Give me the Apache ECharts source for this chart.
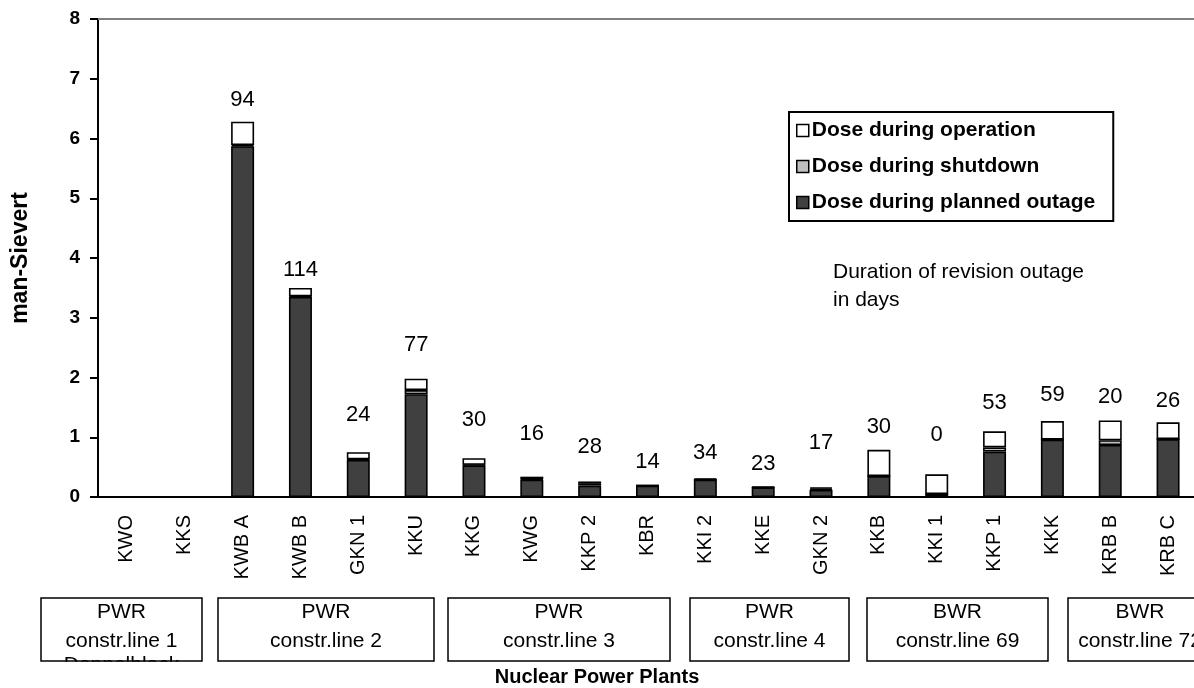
<!DOCTYPE html>
<html>
<head>
<meta charset="utf-8">
<script src="https://cdn.jsdelivr.net/npm/echarts@6/dist/echarts.min.js"></script>
<style>
  html, body { margin: 0; padding: 0; background: #ffffff; }
  #chart { width: 1194px; height: 688px; }
</style>
</head>
<body>
<div id="chart"></div>
<script>
// Plants on the x axis
const plants = ['KWO', 'KKS', 'KWB A', 'KWB B', 'GKN 1', 'KKU', 'KKG', 'KWG', 'KKP 2', 'KBR',
  'KKI 2', 'KKE', 'GKN 2', 'KKB', 'KKI 1', 'KKP 1', 'KKK', 'KRB B', 'KRB C'];

// Collective dose per plant, man-Sievert
const plannedOutageDose = [null, null, 5.87, 3.35, 0.62, 1.72, 0.53, 0.29, 0.19, 0.19,
  0.29, 0.16, 0.12, 0.35, 0.05, 0.76, 0.96, 0.87, 0.97];
const shutdownDose = [null, null, 0.02, 0.01, 0.01, 0.07, 0.01, 0.01, 0.03, 0,
  0, 0, 0.02, 0, 0, 0.07, 0, 0.08, 0];
const operationDose = [null, null, 0.39, 0.14, 0.12, 0.19, 0.11, 0.04, 0.04, 0,
  0.02, 0.01, 0.02, 0.44, 0.33, 0.27, 0.31, 0.33, 0.28];

// Duration of the revision outage in days, and the dose level each note sits at
const outageDays = [null, null, 94, 114, 24, 77, 30, 16, 28, 14, 34, 23, 17, 30, 0, 53, 59, 20, 26];
const outageDaysLevel = [null, null, 6.65, 3.80, 1.37, 2.55, 1.29, 1.05, 0.83, 0.58,
  0.73, 0.56, 0.90, 1.17, 1.04, 1.58, 1.70, 1.68, 1.60];

// Reactor construction lines shown under the axis
const groupType = ['PWR', 'PWR', 'PWR', 'PWR', 'BWR', 'BWR'];
const groupLine = ['constr.line 1', 'constr.line 2', 'constr.line 3', 'constr.line 4', 'constr.line 69', 'constr.line 72'];

const seriesNames = ['Dose during planned outage', 'Dose during shutdown', 'Dose during operation'];

const FONT = 'Arial, "Liberation Sans", Helvetica, sans-serif';
const chart = echarts.init(document.getElementById('chart'), null, { renderer: 'canvas' });

const barStyle = (color) => ({ color: color, borderColor: '#000000', borderWidth: 1.6 });

// Boxes for the construction lines (left, width); the last one runs past the right edge
const boxGeom = [[41, 161], [218, 216], [448, 222], [690, 159], [867, 181], [1068, 144]];
const BOX_TOP = 598, BOX_H = 63;
const graphics = [];
boxGeom.forEach((g, i) => {
  const cx = g[0] + g[1] / 2;
  graphics.push({
    type: 'rect', z: 30,
    shape: { x: g[0], y: BOX_TOP, width: g[1], height: BOX_H },
    style: { fill: 'transparent', stroke: '#000000', lineWidth: 1.5 }
  });
  graphics.push({
    type: 'text', z: 10, x: cx, y: BOX_TOP + 14,
    style: { text: groupType[i], font: '21px ' + FONT, fill: '#000000', align: 'center', verticalAlign: 'middle' }
  });
  graphics.push({
    type: 'text', z: 10, x: cx, y: BOX_TOP + 43,
    style: { text: groupLine[i], font: '21px ' + FONT, fill: '#000000', align: 'center', verticalAlign: 'middle' }
  });
});
// third line of the first box runs past its lower edge and is cut off there
graphics.push({
  type: 'text', z: 10, x: boxGeom[0][0] + boxGeom[0][1] / 2, y: BOX_TOP + 67,
  style: { text: 'Doppelblock', font: '21px ' + FONT, fill: '#000000', align: 'center', verticalAlign: 'middle' }
});
graphics.push({
  type: 'rect', z: 20,
  shape: { x: 30, y: BOX_TOP + BOX_H + 0.8, width: 185, height: 40 },
  style: { fill: '#ffffff' }
});
graphics.push({
  type: 'text', z: 10, x: 597, y: 677,
  style: { text: 'Nuclear Power Plants', font: 'bold 20px ' + FONT, fill: '#000000', align: 'center', verticalAlign: 'middle' }
});
graphics.push({
  type: 'text', z: 10, x: 833, y: 258,
  style: { text: 'Duration of revision outage\nin days', font: '21px ' + FONT, lineHeight: 28, fill: '#000000', align: 'left', verticalAlign: 'top' }
});

chart.setOption({
  animation: false,
  backgroundColor: '#ffffff',
  textStyle: { fontFamily: FONT },
  grid: { left: 98, right: -3, top: 19, bottom: 191, containLabel: false, outerBoundsMode: 'none' },
  legend: {
    data: ['Dose during operation', 'Dose during shutdown', 'Dose during planned outage'],
    orient: 'vertical',
    left: 789, top: 112,
    padding: [8, 18, 8, 7],
    itemGap: 15,
    itemWidth: 12, itemHeight: 12,
    icon: 'rect',
    backgroundColor: '#ffffff',
    borderColor: '#000000', borderWidth: 2, borderRadius: 0,
    itemStyle: { borderColor: '#000000', borderWidth: 1.5 },
    textStyle: { fontFamily: FONT, fontSize: 21, fontWeight: 'bold', color: '#000000', padding: [0, 0, 0, -2] },
    selectedMode: false
  },
  xAxis: [{
    type: 'category',
    data: plants,
    position: 'bottom',
    axisLine: { lineStyle: { color: '#000000', width: 2 } },
    axisTick: { show: false },
    axisLabel: { rotate: 90, margin: 18, fontSize: 20, color: '#000000', fontFamily: FONT, interval: 0 }
  }, {
    type: 'category',
    data: plants,
    position: 'top',
    axisLine: { lineStyle: { color: '#808080', width: 2 } },
    axisTick: { show: false },
    axisLabel: { show: false }
  }],
  yAxis: {
    type: 'value',
    min: 0, max: 8, interval: 1,
    name: 'man-Sievert',
    nameLocation: 'middle',
    nameGap: 66,
    nameRotate: 90,
    nameTextStyle: { fontFamily: FONT, fontSize: 23, fontWeight: 'bold', color: '#000000' },
    axisLine: { show: true, lineStyle: { color: '#000000', width: 2 } },
    axisTick: { show: true, length: 8, lineStyle: { color: '#000000', width: 2 } },
    axisLabel: { margin: 18, fontSize: 19, fontWeight: 'bold', color: '#000000', fontFamily: FONT },
    splitLine: { show: false }
  },
  series: [
    { name: seriesNames[0], type: 'bar', stack: 'dose', barWidth: 23, data: plannedOutageDose, itemStyle: barStyle('#404040') },
    { name: seriesNames[1], type: 'bar', stack: 'dose', barWidth: 23, data: shutdownDose, itemStyle: barStyle('#c0c0c0') },
    { name: seriesNames[2], type: 'bar', stack: 'dose', barWidth: 23, data: operationDose, itemStyle: barStyle('#ffffff') },
    {
      name: 'days', type: 'scatter', symbolSize: 1,
      itemStyle: { color: 'rgba(0,0,0,0)' },
      data: outageDaysLevel.map((v, i) => (v == null ? null : [i, v])),
      label: {
        show: true, position: 'inside',
        formatter: (p) => String(outageDays[p.dataIndex]),
        fontSize: 22, color: '#000000', opacity: 1, textBorderWidth: 0, fontFamily: FONT
      },
      emphasis: { disabled: true },
      z: 5
    }
  ],
  graphic: graphics
});
</script>
</body>
</html>
